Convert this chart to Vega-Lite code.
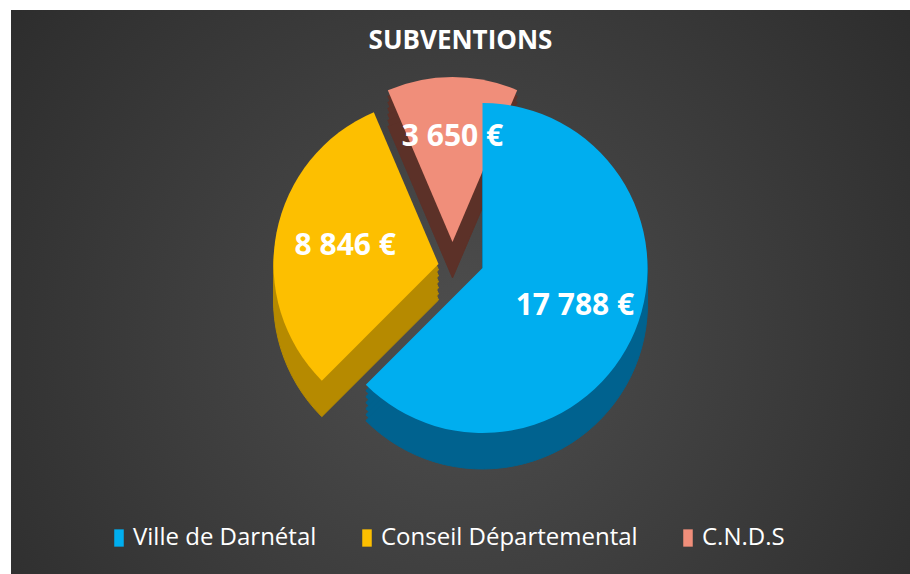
{
  "$schema": "https://vega.github.io/schema/vega-lite/v6.json",
  "autosize": {"type": "none"},
  "width": 899,
  "height": 564,
  "padding": {"left": 11, "top": 10, "right": 0, "bottom": 0},
  "background": "#ffffff",
  "title": {"text": "SUBVENTIONS", "color": "#ffffff", "font": "Open Sans", "fontSize": 26, "fontWeight": "bold", "anchor": "middle", "offset": -44},
  "data": {"values": [
    {"source": "Ville de Darnétal", "value": 17788},
    {"source": "Conseil Départemental", "value": 8846},
    {"source": "C.N.D.S", "value": 3650}
  ]},
  "transform": [
    {"stack": "value", "groupby": [], "sort": [{"field": "value", "order": "descending"}], "as": ["v0", "v1"]},
    {"calculate": "(datum.v0 + datum.v1) / 2", "as": "mid"},
    {"calculate": "replace(format(datum.value, ','), ',', ' ') + ' €'", "as": "label"}
  ],
  "layer": [
    {"data": {"values": [{"bg": 1}]}, "transform": [],
     "mark": {"type": "rect", "color": {"gradient": "radial", "x1": 0.5, "y1": 0.55, "r1": 0, "x2": 0.5, "y2": 0.55, "r2": 0.75, "stops": [{"offset": 0, "color": "#4e4e4e"}, {"offset": 1, "color": "#262626"}]}},
     "encoding": {"x": {"value": 0}, "x2": {"value": "width"}, "y": {"value": 0}, "y2": {"value": "height"}}},
    {
      "encoding": {
        "theta": {"field": "v0", "type": "quantitative", "stack": null},
        "theta2": {"field": "v1"}
      },
      "layer": [
        {"transform": [{"filter": "datum.source == 'C.N.D.S'"}], "mark": {"type": "arc", "outerRadius": 165, "xOffset": -8, "yOffset": -44, "color": "#5c3128", "stroke": "#5c3128", "strokeWidth": 1}},
        {"transform": [{"filter": "datum.source == 'C.N.D.S'"}], "mark": {"type": "arc", "outerRadius": 165, "xOffset": -8, "yOffset": -38, "color": "#5c3128", "stroke": "#5c3128", "strokeWidth": 1}},
        {"transform": [{"filter": "datum.source == 'C.N.D.S'"}], "mark": {"type": "arc", "outerRadius": 165, "xOffset": -8, "yOffset": -32, "color": "#5c3128", "stroke": "#5c3128", "strokeWidth": 1}},
        {"transform": [{"filter": "datum.source == 'C.N.D.S'"}], "mark": {"type": "arc", "outerRadius": 165, "xOffset": -8, "yOffset": -26, "color": "#5c3128", "stroke": "#5c3128", "strokeWidth": 1}},
        {"transform": [{"filter": "datum.source == 'C.N.D.S'"}], "mark": {"type": "arc", "outerRadius": 165, "xOffset": -8, "yOffset": -20, "color": "#5c3128", "stroke": "#5c3128", "strokeWidth": 1}},
        {"transform": [{"filter": "datum.source == 'C.N.D.S'"}], "mark": {"type": "arc", "outerRadius": 165, "xOffset": -8, "yOffset": -14, "color": "#5c3128", "stroke": "#5c3128", "strokeWidth": 1}},
        {"transform": [{"filter": "datum.source == 'Conseil Départemental'"}], "mark": {"type": "arc", "outerRadius": 165, "xOffset": -22, "yOffset": -22, "color": "#b68a00", "stroke": "#b68a00", "strokeWidth": 1}},
        {"transform": [{"filter": "datum.source == 'Conseil Départemental'"}], "mark": {"type": "arc", "outerRadius": 165, "xOffset": -22, "yOffset": -16, "color": "#b68a00", "stroke": "#b68a00", "strokeWidth": 1}},
        {"transform": [{"filter": "datum.source == 'Conseil Départemental'"}], "mark": {"type": "arc", "outerRadius": 165, "xOffset": -22, "yOffset": -10, "color": "#b68a00", "stroke": "#b68a00", "strokeWidth": 1}},
        {"transform": [{"filter": "datum.source == 'Conseil Départemental'"}], "mark": {"type": "arc", "outerRadius": 165, "xOffset": -22, "yOffset": -4, "color": "#b68a00", "stroke": "#b68a00", "strokeWidth": 1}},
        {"transform": [{"filter": "datum.source == 'Conseil Départemental'"}], "mark": {"type": "arc", "outerRadius": 165, "xOffset": -22, "yOffset": 2, "color": "#b68a00", "stroke": "#b68a00", "strokeWidth": 1}},
        {"transform": [{"filter": "datum.source == 'Conseil Départemental'"}], "mark": {"type": "arc", "outerRadius": 165, "xOffset": -22, "yOffset": 8, "color": "#b68a00", "stroke": "#b68a00", "strokeWidth": 1}},
        {"transform": [{"filter": "datum.source == 'Ville de Darnétal'"}], "mark": {"type": "arc", "outerRadius": 165, "xOffset": 22, "yOffset": -18, "color": "#00628f", "stroke": "#00628f", "strokeWidth": 1}},
        {"transform": [{"filter": "datum.source == 'Ville de Darnétal'"}], "mark": {"type": "arc", "outerRadius": 165, "xOffset": 22, "yOffset": -12, "color": "#00628f", "stroke": "#00628f", "strokeWidth": 1}},
        {"transform": [{"filter": "datum.source == 'Ville de Darnétal'"}], "mark": {"type": "arc", "outerRadius": 165, "xOffset": 22, "yOffset": -6, "color": "#00628f", "stroke": "#00628f", "strokeWidth": 1}},
        {"transform": [{"filter": "datum.source == 'Ville de Darnétal'"}], "mark": {"type": "arc", "outerRadius": 165, "xOffset": 22, "yOffset": 0, "color": "#00628f", "stroke": "#00628f", "strokeWidth": 1}},
        {"transform": [{"filter": "datum.source == 'Ville de Darnétal'"}], "mark": {"type": "arc", "outerRadius": 165, "xOffset": 22, "yOffset": 6, "color": "#00628f", "stroke": "#00628f", "strokeWidth": 1}},
        {"transform": [{"filter": "datum.source == 'Ville de Darnétal'"}], "mark": {"type": "arc", "outerRadius": 165, "xOffset": 22, "yOffset": 12, "color": "#00628f", "stroke": "#00628f", "strokeWidth": 1}},
        {"transform": [{"filter": "datum.source == 'C.N.D.S'"}], "mark": {"type": "arc", "outerRadius": 165, "xOffset": -8, "yOffset": -50},
         "encoding": {"color": {"field": "source", "type": "nominal", "scale": {"domain": ["Ville de Darnétal", "Conseil Départemental", "C.N.D.S"], "range": ["#00aeef", "#fdbf00", "#f08e7a"]}}}},
        {"transform": [{"filter": "datum.source == 'Conseil Départemental'"}], "mark": {"type": "arc", "outerRadius": 165, "xOffset": -22, "yOffset": -28},
         "encoding": {"color": {"field": "source", "type": "nominal"}}},
        {"transform": [{"filter": "datum.source == 'Ville de Darnétal'"}], "mark": {"type": "arc", "outerRadius": 165, "xOffset": 22, "yOffset": -24},
         "encoding": {"color": {"field": "source", "type": "nominal"}}},
        {"transform": [{"filter": "datum.source == 'C.N.D.S'"}], "mark": {"type": "text", "font": "Open Sans", "fontSize": 30, "fontWeight": "bold", "color": "#ffffff", "xOffset": -8, "yOffset": -50},
         "encoding": {"theta": {"field": "mid", "type": "quantitative", "stack": null}, "theta2": null, "radius": {"value": 105}, "text": {"field": "label"}}},
        {"transform": [{"filter": "datum.source == 'Conseil Départemental'"}], "mark": {"type": "text", "font": "Open Sans", "fontSize": 30, "fontWeight": "bold", "color": "#ffffff", "xOffset": -22, "yOffset": -28},
         "encoding": {"theta": {"field": "mid", "type": "quantitative", "stack": null}, "theta2": null, "radius": {"value": 95}, "text": {"field": "label"}}},
        {"transform": [{"filter": "datum.source == 'Ville de Darnétal'"}], "mark": {"type": "text", "font": "Open Sans", "fontSize": 30, "fontWeight": "bold", "color": "#ffffff", "xOffset": 22, "yOffset": -24},
         "encoding": {"theta": {"field": "mid", "type": "quantitative", "stack": null}, "theta2": null, "radius": {"value": 100}, "text": {"field": "label"}}}
      ]
    }
  ],
  "config": {
    "view": {"stroke": null},
    "legend": {"orient": "none", "legendX": 96, "legendY": 516, "direction": "horizontal", "title": null, "labelColor": "#ffffff", "labelFont": "Open Sans", "labelFontSize": 24, "symbolType": "M-0.55,-1L0.55,-1L0.55,1L-0.55,1Z", "symbolSize": 300, "symbolStrokeWidth": 0, "columnPadding": 38, "labelOffset": 2, "labelLimit": 400}
  }
}
